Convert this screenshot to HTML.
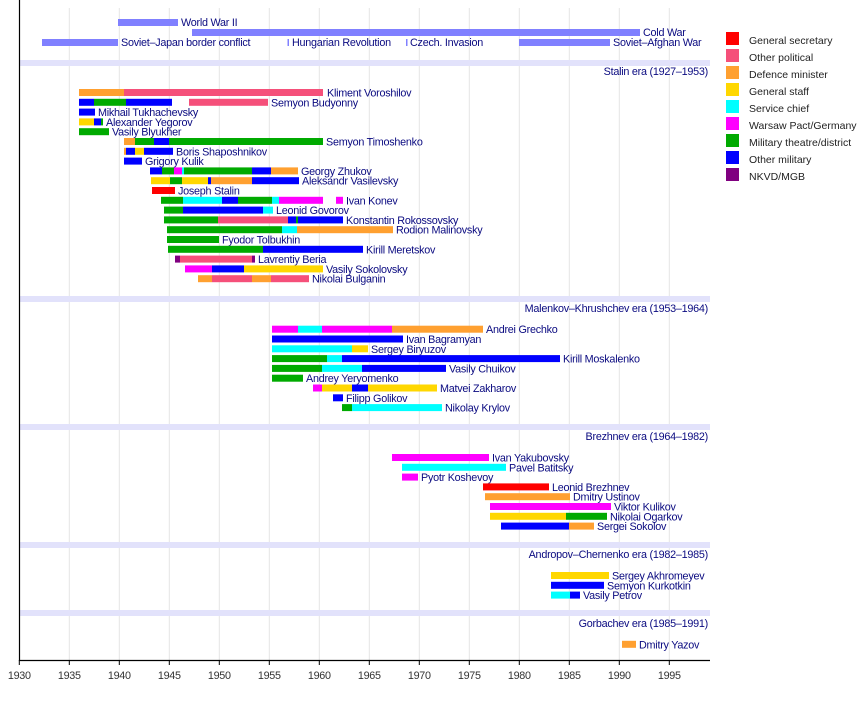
<!DOCTYPE html>
<html><head><meta charset="utf-8"><style>
html,body{margin:0;padding:0;background:#fff;}
svg{display:block;font-family:"Liberation Sans",sans-serif;}
.t{font-size:10.8px;fill:#0a0a80;letter-spacing:-0.25px}
.tk{font-size:10.8px;fill:#333;text-anchor:middle;letter-spacing:-0.3px}
.e{font-size:10.8px;fill:#0a0a80;text-anchor:end;letter-spacing:-0.25px}
.lg{font-size:10.5px;fill:#222}
.R{fill:#ff0000}.P{fill:#f5507a}.O{fill:#ffa030}.Y{fill:#ffd700}.C{fill:#00ffff}.M{fill:#ff00ff}.G{fill:#00aa00}.B{fill:#0000ff}.V{fill:#800080}.W{fill:#8080ff}
</style></head><body>
<svg width="868" height="710" viewBox="0 0 868 710">
<g stroke="#e4e4e4" stroke-width="1">
<line x1="69.3" y1="8" x2="69.3" y2="660"/><line x1="119.3" y1="8" x2="119.3" y2="660"/><line x1="169.3" y1="8" x2="169.3" y2="660"/><line x1="219.3" y1="8" x2="219.3" y2="660"/><line x1="269.3" y1="8" x2="269.3" y2="660"/><line x1="319.3" y1="8" x2="319.3" y2="660"/><line x1="369.3" y1="8" x2="369.3" y2="660"/><line x1="419.3" y1="8" x2="419.3" y2="660"/><line x1="469.3" y1="8" x2="469.3" y2="660"/><line x1="519.3" y1="8" x2="519.3" y2="660"/><line x1="569.3" y1="8" x2="569.3" y2="660"/><line x1="619.3" y1="8" x2="619.3" y2="660"/><line x1="669.3" y1="8" x2="669.3" y2="660"/>
</g>
<g fill="#e2e2fb">
<rect x="20" y="60" width="690" height="6"/><rect x="20" y="296" width="690" height="6"/><rect x="20" y="424" width="690" height="6"/><rect x="20" y="542" width="690" height="6"/><rect x="20" y="610" width="690" height="6"/>
</g>
<text class="e" x="708" y="75">Stalin era (1927–1953)</text>
<text class="e" x="708" y="312">Malenkov–Khrushchev era (1953–1964)</text>
<text class="e" x="708" y="440">Brezhnev era (1964–1982)</text>
<text class="e" x="708" y="558">Andropov–Chernenko era (1982–1985)</text>
<text class="e" x="708" y="627">Gorbachev era (1985–1991)</text>
<rect class="W" x="118" y="19" width="60" height="7"/><text class="t" x="181" y="26">World War II</text>
<rect class="W" x="192" y="29" width="448" height="7"/><text class="t" x="643" y="36">Cold War</text>
<rect class="W" x="42" y="39" width="76" height="7"/><text class="t" x="121" y="46">Soviet–Japan border conflict</text>
<rect class="W" x="287.5" y="39" width="1.5" height="7"/><text class="t" x="292" y="46">Hungarian Revolution</text>
<rect class="W" x="406" y="39" width="1.5" height="7"/><text class="t" x="410" y="46">Czech. Invasion</text>
<rect class="W" x="519" y="39" width="91" height="7"/><text class="t" x="613" y="46">Soviet–Afghan War</text>
<g transform="translate(0,89)"><rect class="O" x="79" y="0" width="45" height="7"/><rect class="P" x="124" y="0" width="199" height="7"/><text class="t" x="327" y="7.5">Kliment Voroshilov</text></g>
<g transform="translate(0,98.8)"><rect class="B" x="79" y="0" width="15" height="7"/><rect class="G" x="94" y="0" width="32" height="7"/><rect class="B" x="126" y="0" width="46" height="7"/><rect class="P" x="189" y="0" width="79" height="7"/><text class="t" x="271" y="7.5">Semyon Budyonny</text></g>
<g transform="translate(0,108.6)"><rect class="B" x="79" y="0" width="16" height="7"/><text class="t" x="98" y="7.5">Mikhail Tukhachevsky</text></g>
<g transform="translate(0,118.4)"><rect class="Y" x="79" y="0" width="15" height="7"/><rect class="B" x="94" y="0" width="7" height="7"/><rect class="G" x="101" y="0" width="2" height="7"/><text class="t" x="106" y="7.5">Alexander Yegorov</text></g>
<g transform="translate(0,128.2)"><rect class="G" x="79" y="0" width="30" height="7"/><text class="t" x="112" y="7.5">Vasily Blyukher</text></g>
<g transform="translate(0,138)"><rect class="O" x="124" y="0" width="11" height="7"/><rect class="G" x="135" y="0" width="19" height="7"/><rect class="B" x="154" y="0" width="15" height="7"/><rect class="G" x="169" y="0" width="154" height="7"/><text class="t" x="326" y="7.5">Semyon Timoshenko</text></g>
<g transform="translate(0,147.8)"><rect class="O" x="124" y="0" width="2" height="7"/><rect class="B" x="126" y="0" width="9" height="7"/><rect class="Y" x="135" y="0" width="9" height="7"/><rect class="B" x="144" y="0" width="29" height="7"/><text class="t" x="176" y="7.5">Boris Shaposhnikov</text></g>
<g transform="translate(0,157.6)"><rect class="B" x="124" y="0" width="18" height="7"/><text class="t" x="145" y="7.5">Grigory Kulik</text></g>
<g transform="translate(0,167.4)"><rect class="B" x="150" y="0" width="12" height="7"/><rect class="G" x="162" y="0" width="12" height="7"/><rect class="M" x="174" y="0" width="8" height="7"/><rect class="C" x="182" y="0" width="2" height="7"/><rect class="G" x="184" y="0" width="68" height="7"/><rect class="B" x="252" y="0" width="19" height="7"/><rect class="O" x="271" y="0" width="27" height="7"/><text class="t" x="301" y="7.5">Georgy Zhukov</text></g>
<g transform="translate(0,177.2)"><rect class="Y" x="151" y="0" width="19" height="7"/><rect class="G" x="170" y="0" width="12" height="7"/><rect class="Y" x="182" y="0" width="26" height="7"/><rect class="B" x="208" y="0" width="3" height="7"/><rect class="O" x="211" y="0" width="41" height="7"/><rect class="B" x="252" y="0" width="47" height="7"/><text class="t" x="302" y="7.5">Aleksandr Vasilevsky</text></g>
<g transform="translate(0,187)"><rect class="R" x="152" y="0" width="23" height="7"/><text class="t" x="178" y="7.5">Joseph Stalin</text></g>
<g transform="translate(0,196.8)"><rect class="G" x="161" y="0" width="22" height="7"/><rect class="C" x="183" y="0" width="39" height="7"/><rect class="B" x="222" y="0" width="16" height="7"/><rect class="G" x="238" y="0" width="34" height="7"/><rect class="C" x="272" y="0" width="7" height="7"/><rect class="M" x="279" y="0" width="44" height="7"/><rect class="M" x="336" y="0" width="7" height="7"/><text class="t" x="346" y="7.5">Ivan Konev</text></g>
<g transform="translate(0,206.6)"><rect class="G" x="164" y="0" width="19" height="7"/><rect class="B" x="183" y="0" width="80" height="7"/><rect class="C" x="263" y="0" width="10" height="7"/><text class="t" x="276" y="7.5">Leonid Govorov</text></g>
<g transform="translate(0,216.4)"><rect class="G" x="164" y="0" width="54" height="7"/><rect class="P" x="218" y="0" width="70" height="7"/><rect class="B" x="288" y="0" width="8" height="7"/><rect class="G" x="296" y="0" width="2" height="7"/><rect class="B" x="298" y="0" width="45" height="7"/><text class="t" x="346" y="7.5">Konstantin Rokossovsky</text></g>
<g transform="translate(0,226.2)"><rect class="G" x="167" y="0" width="115" height="7"/><rect class="C" x="282" y="0" width="15" height="7"/><rect class="O" x="297" y="0" width="96" height="7"/><text class="t" x="396" y="7.5">Rodion Malinovsky</text></g>
<g transform="translate(0,236)"><rect class="G" x="167" y="0" width="52" height="7"/><text class="t" x="222" y="7.5">Fyodor Tolbukhin</text></g>
<g transform="translate(0,245.8)"><rect class="G" x="168" y="0" width="95" height="7"/><rect class="B" x="263" y="0" width="100" height="7"/><text class="t" x="366" y="7.5">Kirill Meretskov</text></g>
<g transform="translate(0,255.6)"><rect class="V" x="175" y="0" width="5" height="7"/><rect class="P" x="180" y="0" width="72" height="7"/><rect class="V" x="252" y="0" width="3" height="7"/><text class="t" x="258" y="7.5">Lavrentiy Beria</text></g>
<g transform="translate(0,265.4)"><rect class="M" x="185" y="0" width="27" height="7"/><rect class="B" x="212" y="0" width="32" height="7"/><rect class="Y" x="244" y="0" width="79" height="7"/><text class="t" x="326" y="7.5">Vasily Sokolovsky</text></g>
<g transform="translate(0,275.2)"><rect class="O" x="198" y="0" width="14" height="7"/><rect class="P" x="212" y="0" width="40" height="7"/><rect class="O" x="252" y="0" width="19" height="7"/><rect class="P" x="271" y="0" width="38" height="7"/><text class="t" x="312" y="7.5">Nikolai Bulganin</text></g>
<g transform="translate(0,325.7)"><rect class="M" x="272" y="0" width="26" height="7"/><rect class="C" x="298" y="0" width="24" height="7"/><rect class="M" x="322" y="0" width="70" height="7"/><rect class="O" x="392" y="0" width="91" height="7"/><text class="t" x="486" y="7.5">Andrei Grechko</text></g>
<g transform="translate(0,335.5)"><rect class="B" x="272" y="0" width="131" height="7"/><text class="t" x="406" y="7.5">Ivan Bagramyan</text></g>
<g transform="translate(0,345.3)"><rect class="C" x="272" y="0" width="80" height="7"/><rect class="Y" x="352" y="0" width="16" height="7"/><text class="t" x="371" y="7.5">Sergey Biryuzov</text></g>
<g transform="translate(0,355.1)"><rect class="G" x="272" y="0" width="55" height="7"/><rect class="C" x="327" y="0" width="15" height="7"/><rect class="B" x="342" y="0" width="218" height="7"/><text class="t" x="563" y="7.5">Kirill Moskalenko</text></g>
<g transform="translate(0,364.9)"><rect class="G" x="272" y="0" width="50" height="7"/><rect class="C" x="322" y="0" width="40" height="7"/><rect class="B" x="362" y="0" width="84" height="7"/><text class="t" x="449" y="7.5">Vasily Chuikov</text></g>
<g transform="translate(0,374.7)"><rect class="G" x="272" y="0" width="31" height="7"/><text class="t" x="306" y="7.5">Andrey Yeryomenko</text></g>
<g transform="translate(0,384.5)"><rect class="M" x="313" y="0" width="9" height="7"/><rect class="Y" x="322" y="0" width="30" height="7"/><rect class="B" x="352" y="0" width="16" height="7"/><rect class="Y" x="368" y="0" width="69" height="7"/><text class="t" x="440" y="7.5">Matvei Zakharov</text></g>
<g transform="translate(0,394.3)"><rect class="B" x="333" y="0" width="10" height="7"/><text class="t" x="346" y="7.5">Filipp Golikov</text></g>
<g transform="translate(0,404.1)"><rect class="G" x="342" y="0" width="10" height="7"/><rect class="C" x="352" y="0" width="90" height="7"/><text class="t" x="445" y="7.5">Nikolay Krylov</text></g>
<g transform="translate(0,454)"><rect class="M" x="392" y="0" width="97" height="7"/><text class="t" x="492" y="7.5">Ivan Yakubovsky</text></g>
<g transform="translate(0,463.8)"><rect class="C" x="402" y="0" width="104" height="7"/><text class="t" x="509" y="7.5">Pavel Batitsky</text></g>
<g transform="translate(0,473.6)"><rect class="M" x="402" y="0" width="16" height="7"/><text class="t" x="421" y="7.5">Pyotr Koshevoy</text></g>
<g transform="translate(0,483.4)"><rect class="R" x="483" y="0" width="66" height="7"/><text class="t" x="552" y="7.5">Leonid Brezhnev</text></g>
<g transform="translate(0,493.2)"><rect class="O" x="485" y="0" width="85" height="7"/><text class="t" x="573" y="7.5">Dmitry Ustinov</text></g>
<g transform="translate(0,503)"><rect class="M" x="490" y="0" width="121" height="7"/><text class="t" x="614" y="7.5">Viktor Kulikov</text></g>
<g transform="translate(0,512.8)"><rect class="Y" x="490" y="0" width="76" height="7"/><rect class="G" x="566" y="0" width="41" height="7"/><text class="t" x="610" y="7.5">Nikolai Ogarkov</text></g>
<g transform="translate(0,522.6)"><rect class="B" x="501" y="0" width="68" height="7"/><rect class="O" x="569" y="0" width="25" height="7"/><text class="t" x="597" y="7.5">Sergei Sokolov</text></g>
<g transform="translate(0,572)"><rect class="Y" x="551" y="0" width="58" height="7"/><text class="t" x="612" y="7.5">Sergey Akhromeyev</text></g>
<g transform="translate(0,581.8)"><rect class="B" x="551" y="0" width="53" height="7"/><text class="t" x="607" y="7.5">Semyon Kurkotkin</text></g>
<g transform="translate(0,591.6)"><rect class="C" x="551" y="0" width="19" height="7"/><rect class="B" x="570" y="0" width="10" height="7"/><text class="t" x="583" y="7.5">Vasily Petrov</text></g>
<g transform="translate(0,640.8)"><rect class="O" x="622" y="0" width="14" height="7"/><text class="t" x="639" y="7.5">Dmitry Yazov</text></g>
<line x1="19.5" y1="0" x2="19.5" y2="661" stroke="#000" stroke-width="1.2"/>
<line x1="19" y1="660.5" x2="710" y2="660.5" stroke="#000" stroke-width="1.2"/>
<g stroke="#000" stroke-width="1">
<line x1="19.3" y1="660" x2="19.3" y2="665"/><line x1="69.3" y1="660" x2="69.3" y2="665"/><line x1="119.3" y1="660" x2="119.3" y2="665"/><line x1="169.3" y1="660" x2="169.3" y2="665"/><line x1="219.3" y1="660" x2="219.3" y2="665"/><line x1="269.3" y1="660" x2="269.3" y2="665"/><line x1="319.3" y1="660" x2="319.3" y2="665"/><line x1="369.3" y1="660" x2="369.3" y2="665"/><line x1="419.3" y1="660" x2="419.3" y2="665"/><line x1="469.3" y1="660" x2="469.3" y2="665"/><line x1="519.3" y1="660" x2="519.3" y2="665"/><line x1="569.3" y1="660" x2="569.3" y2="665"/><line x1="619.3" y1="660" x2="619.3" y2="665"/><line x1="669.3" y1="660" x2="669.3" y2="665"/>
</g>
<g>
<text class="tk" x="19.3" y="679">1930</text><text class="tk" x="69.3" y="679">1935</text><text class="tk" x="119.3" y="679">1940</text><text class="tk" x="169.3" y="679">1945</text><text class="tk" x="219.3" y="679">1950</text><text class="tk" x="269.3" y="679">1955</text><text class="tk" x="319.3" y="679">1960</text><text class="tk" x="369.3" y="679">1965</text><text class="tk" x="419.3" y="679">1970</text><text class="tk" x="469.3" y="679">1975</text><text class="tk" x="519.3" y="679">1980</text><text class="tk" x="569.3" y="679">1985</text><text class="tk" x="619.3" y="679">1990</text><text class="tk" x="669.3" y="679">1995</text>
</g>
<rect class="R" x="726" y="32" width="13" height="13"/><text class="lg" x="749" y="44">General secretary</text>
<rect class="P" x="726" y="49" width="13" height="13"/><text class="lg" x="749" y="61">Other political</text>
<rect class="O" x="726" y="66" width="13" height="13"/><text class="lg" x="749" y="78">Defence minister</text>
<rect class="Y" x="726" y="83" width="13" height="13"/><text class="lg" x="749" y="95">General staff</text>
<rect class="C" x="726" y="100" width="13" height="13"/><text class="lg" x="749" y="112">Service chief</text>
<rect class="M" x="726" y="117" width="13" height="13"/><text class="lg" x="749" y="129">Warsaw Pact/Germany</text>
<rect class="G" x="726" y="134" width="13" height="13"/><text class="lg" x="749" y="146">Military theatre/district</text>
<rect class="B" x="726" y="151" width="13" height="13"/><text class="lg" x="749" y="163">Other military</text>
<rect class="V" x="726" y="168" width="13" height="13"/><text class="lg" x="749" y="180">NKVD/MGB</text>
</svg>
</body></html>
